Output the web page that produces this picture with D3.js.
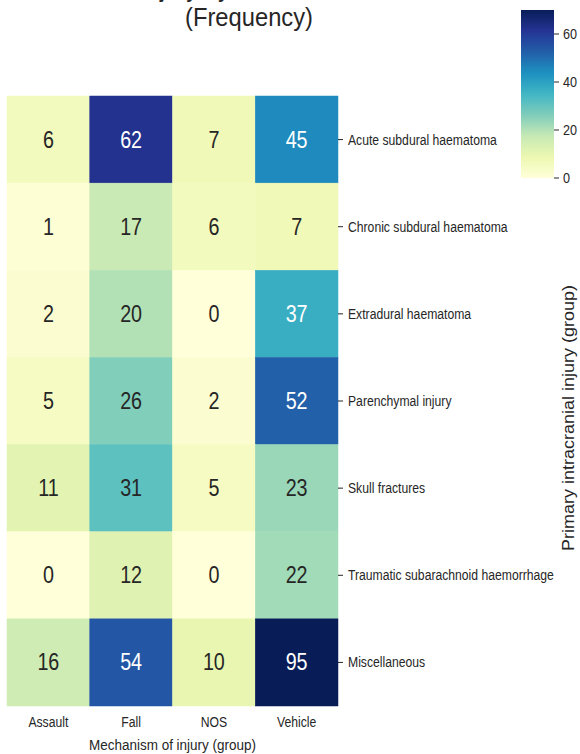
<!DOCTYPE html>
<html>
<head>
<meta charset="utf-8">
<script src="https://cdn.jsdelivr.net/npm/d3@7"></script>
<style>
  html, body { margin: 0; padding: 0; background: #fff; }
  svg { display: block; font-family: "Liberation Sans", Arial, sans-serif; }
</style>
</head>
<body>
<svg id="chart" width="580" height="754"></svg>
<script>
// Mechanism of injury (columns) and primary intracranial injury (rows)
const mechanisms = ["Assault", "Fall", "NOS", "Vehicle"];
const injuries = [
  "Acute subdural haematoma",
  "Chronic subdural haematoma",
  "Extradural haematoma",
  "Parenchymal injury",
  "Skull fractures",
  "Traumatic subarachnoid haemorrhage",
  "Miscellaneous"
];
// Frequency per injury row, one value per mechanism
const assaultCounts = [6, 1, 2, 5, 11, 0, 16];
const fallCounts    = [62, 17, 20, 26, 31, 12, 54];
const nosCounts     = [7, 6, 0, 2, 5, 0, 10];
const vehicleCounts = [45, 7, 37, 52, 23, 22, 95];
const colorTicks = [0, 20, 40, 60];
const colorMax = 70;

const seriesByMechanism = [assaultCounts, fallCounts, nosCounts, vehicleCounts];
const cells = [];
injuries.forEach((inj, r) => {
  mechanisms.forEach((mech, c) => {
    cells.push({ injury: inj, mechanism: mech, value: seriesByMechanism[c][r] });
  });
});

// YlGnBu, linear between the nine ColorBrewer stops
const ylgnbu = ["#ffffd9", "#edf8b1", "#c7e9b4", "#7fcdbb", "#41b6c4",
                "#1d91c0", "#225ea8", "#253494", "#081d58"];
const color = d3.scaleLinear()
  .domain(ylgnbu.map((_, i) => i / (ylgnbu.length - 1) * colorMax))
  .range(ylgnbu)
  .interpolate(d3.interpolateRgb)
  .clamp(true);

function luminance(c) {
  const rgb = d3.rgb(c);
  const lin = v => { v /= 255; return v <= 0.03928 ? v / 12.92 : Math.pow((v + 0.055) / 1.055, 2.4); };
  return 0.2126 * lin(rgb.r) + 0.7152 * lin(rgb.g) + 0.0722 * lin(rgb.b);
}

const svg = d3.select("#chart");
const plot = { left: 7, right: 338, top: 96, bottom: 706 };
const inkColor = "#262626";
const sx = 0.87; // horizontal condensing of the label type

const x = d3.scaleBand().domain(mechanisms).range([plot.left, plot.right]).padding(0);
const y = d3.scaleBand().domain(injuries).range([plot.top, plot.bottom]).padding(0);

function squeezedText(sel, px, py, anchor, size, txt, fill, k) {
  return sel.append("text")
    .attr("transform", `translate(${px},${py}) scale(${k === undefined ? sx : k},1)`)
    .attr("text-anchor", anchor)
    .attr("font-size", size)
    .attr("fill", fill || inkColor)
    .text(txt);
}

// Title (two lines; the first sits above the top edge)
const titleG = svg.append("g");
squeezedText(titleG, 249, -3, "middle", 25, "Injury by mechanism", inkColor, 0.95);
squeezedText(titleG, 249, 26, "middle", 25, "(Frequency)", inkColor, 0.95);

// Heatmap cells
svg.append("g").selectAll("rect")
  .data(cells)
  .join("rect")
  .attr("x", d => x(d.mechanism))
  .attr("y", d => y(d.injury))
  .attr("width", x.bandwidth())
  .attr("height", y.bandwidth())
  .attr("fill", d => color(d.value))
  .attr("stroke", d => color(d.value))
  .attr("stroke-width", 0.5);

// Cell annotations
const annG = svg.append("g");
cells.forEach(d => {
  const fill = luminance(color(d.value)) < 0.408 ? "#ffffff" : "#262626";
  squeezedText(annG, x(d.mechanism) + x.bandwidth() / 2, y(d.injury) + y.bandwidth() / 2 + 8,
    "middle", 23.5, d.value, fill, 0.84);
});

// Row labels on the right
const yAxisG = svg.append("g").attr("transform", `translate(${plot.right},0)`);
injuries.forEach(inj => {
  const cy = y(inj) + y.bandwidth() / 2;
  yAxisG.append("line").attr("x1", 0).attr("x2", 5).attr("y1", cy).attr("y2", cy)
    .attr("stroke", inkColor).attr("stroke-width", 1);
  squeezedText(yAxisG, 10, cy + 5, "start", 14, inj);
});

// Column labels below
const xAxisG = svg.append("g");
mechanisms.forEach(m => {
  squeezedText(xAxisG, x(m) + x.bandwidth() / 2, 727, "middle", 14, m);
});
squeezedText(svg, (plot.left + plot.right) / 2, 750, "middle", 15.5, "Mechanism of injury (group)");

// Axis title on the right, reading upward
svg.append("text")
  .attr("transform", `translate(574,418) rotate(-90) scale(1,${sx})`)
  .attr("text-anchor", "middle")
  .attr("font-size", 18)
  .attr("fill", inkColor)
  .text("Primary intracranial injury (group)");

// Colour bar
const cb = { x: 521, w: 33, top: 10, bottom: 178 };
const cbScale = d3.scaleLinear().domain([0, colorMax]).range([cb.bottom, cb.top]);
const grad = svg.append("defs").append("linearGradient")
  .attr("id", "cbgrad").attr("x1", 0).attr("y1", 1).attr("x2", 0).attr("y2", 0);
d3.range(0, 1.0001, 0.02).forEach(t => {
  grad.append("stop").attr("offset", t).attr("stop-color", color(t * colorMax));
});
svg.append("rect")
  .attr("x", cb.x).attr("y", cb.top)
  .attr("width", cb.w).attr("height", cb.bottom - cb.top)
  .attr("fill", "url(#cbgrad)");
const cbAxis = svg.append("g").attr("transform", `translate(${cb.x + cb.w},0)`);
colorTicks.forEach(v => {
  const ty = cbScale(v);
  cbAxis.append("line").attr("x1", 0).attr("x2", 5).attr("y1", ty).attr("y2", ty)
    .attr("stroke", inkColor).attr("stroke-width", 1);
  squeezedText(cbAxis, 9, ty + 5, "start", 14.5, v);
});
</script>
</body>
</html>
